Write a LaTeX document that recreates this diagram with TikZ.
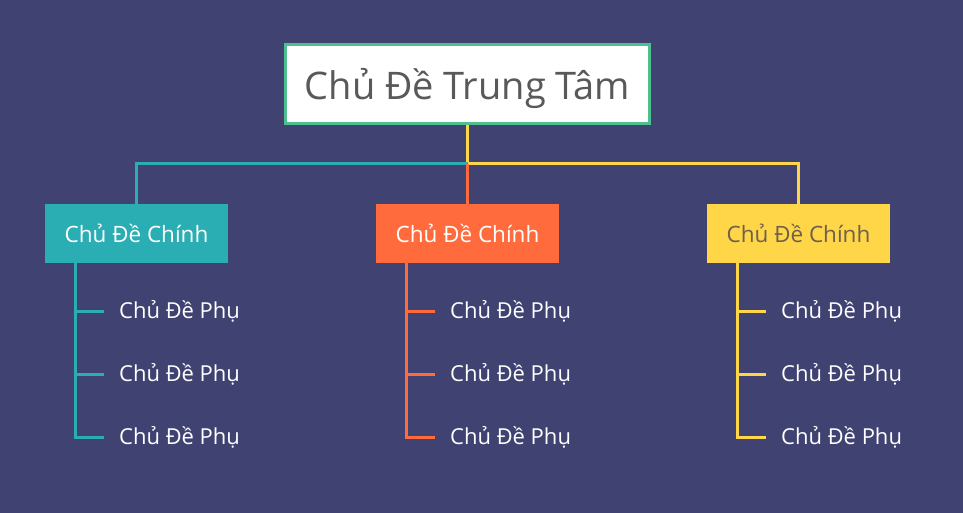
\documentclass[tikz,border=0pt]{standalone}
\usepackage{fontspec}
\setmainfont{Open Sans}
\definecolor{bgcol}{HTML}{404272}
\definecolor{tealcol}{HTML}{2AAEB4}
\definecolor{orangecol}{HTML}{FF6B3D}
\definecolor{yellowcol}{HTML}{FFD648}
\definecolor{greencol}{HTML}{4FBF8E}
\definecolor{graytext}{HTML}{595959}
\definecolor{browntext}{HTML}{6E5F4E}
\begin{document}
\begin{tikzpicture}[x=1pt, y=-1pt,
    mainbox/.style={minimum width=183pt, minimum height=59pt, inner sep=0pt,
        font=\fontsize{22.5}{26}\selectfont},
    subtopic/.style={anchor=west, inner xsep=15pt, inner ysep=0pt, text=white,
        font=\fontsize{22}{25}\selectfont},
    link/.style={line width=3pt}]
    % nền
    \fill[bgcol] (0,0) rectangle (963,513);

    % chủ đề trung tâm
    \node[draw=greencol, line width=3pt, fill=white, text=graytext,
        minimum width=364pt, minimum height=79pt, inner sep=0pt,
        text height=30pt, text depth=0pt,
        font=\fontsize{38}{42}\selectfont] (center) at (467.5,84.5) {Chủ Đề Trung Tâm};
    \coordinate (junction) at (467.5,164);

    % chủ đề chính
    \node[mainbox, fill=tealcol, text=white] (mainA) at (136.5,233.5) {Chủ Đề Chính};
    \node[mainbox, fill=orangecol, text=white] (mainB) at (467.5,233.5) {Chủ Đề Chính};
    \node[mainbox, fill=yellowcol, text=browntext] (mainC) at (798.5,233.5) {Chủ Đề Chính};

    \draw[link, yellowcol] (center.south) -- (junction);
    \draw[link, tealcol] (junction) -| (mainA.north);
    \draw[link, yellowcol] (junction) -| (mainC.north);
    \draw[link, orangecol] (junction) -- (mainB.north);

    % nhánh 1
    \begin{scope}
        \coordinate (trunkA) at (75.5,263);
        \node[subtopic] (subA1) at (104,311) {Chủ Đề Phụ};
        \node[subtopic] (subA2) at (104,374) {Chủ Đề Phụ};
        \node[subtopic] (subA3) at (104,437) {Chủ Đề Phụ};
        \draw[link, tealcol] (trunkA) |- (subA3.west);
        \draw[link, tealcol] (trunkA |- subA1.west) -- (subA1.west);
        \draw[link, tealcol] (trunkA |- subA2.west) -- (subA2.west);
    \end{scope}

    % nhánh 2
    \begin{scope}
        \coordinate (trunkB) at (406.5,263);
        \node[subtopic] (subB1) at (435,311) {Chủ Đề Phụ};
        \node[subtopic] (subB2) at (435,374) {Chủ Đề Phụ};
        \node[subtopic] (subB3) at (435,437) {Chủ Đề Phụ};
        \draw[link, orangecol] (trunkB) |- (subB3.west);
        \draw[link, orangecol] (trunkB |- subB1.west) -- (subB1.west);
        \draw[link, orangecol] (trunkB |- subB2.west) -- (subB2.west);
    \end{scope}

    % nhánh 3
    \begin{scope}
        \coordinate (trunkC) at (737.5,263);
        \node[subtopic] (subC1) at (766,311) {Chủ Đề Phụ};
        \node[subtopic] (subC2) at (766,374) {Chủ Đề Phụ};
        \node[subtopic] (subC3) at (766,437) {Chủ Đề Phụ};
        \draw[link, yellowcol] (trunkC) |- (subC3.west);
        \draw[link, yellowcol] (trunkC |- subC1.west) -- (subC1.west);
        \draw[link, yellowcol] (trunkC |- subC2.west) -- (subC2.west);
    \end{scope}
\end{tikzpicture}
\end{document}
